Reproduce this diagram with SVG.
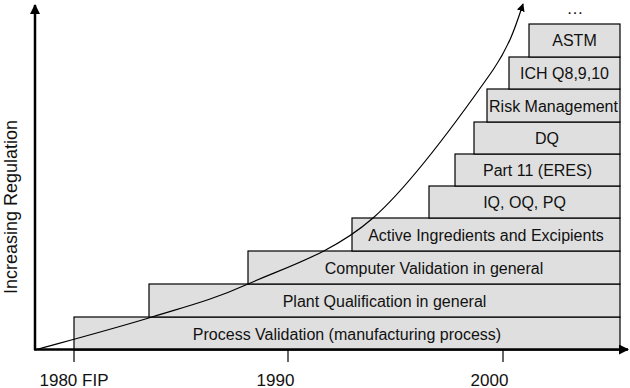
<svg xmlns="http://www.w3.org/2000/svg" width="630" height="388" viewBox="0 0 630 388">
<style>
.box{fill:#dfdfdf;stroke:#000;stroke-width:1.2}
.lbl{font-family:"Liberation Sans",Arial,sans-serif;font-size:16px;fill:#111;text-anchor:middle}
.axis{stroke:#000;stroke-width:2.5;fill:none}
.tick{stroke:#000;stroke-width:1.2}
.curve{stroke:#000;stroke-width:1.2;fill:none}
</style>
<defs>
<marker id="ah" viewBox="0 0 10 10" refX="9" refY="5" markerWidth="8" markerHeight="8" markerUnits="userSpaceOnUse" orient="auto">
<path d="M0,0 L10,5 L0,10 z" fill="#000"/>
</marker>
<marker id="ah2" viewBox="0 0 10 10" refX="9" refY="5" markerWidth="4" markerHeight="4" orient="auto">
<path d="M0,0 L10,5 L0,10 z" fill="#000"/>
</marker>
</defs>
<g id="n1"><rect class="box" x="74" y="317" width="546" height="33"/><text class="lbl" x="347" y="339.5">Process Validation (manufacturing process)</text></g>
<g id="n2"><rect class="box" x="149" y="284" width="471" height="33"/><text class="lbl" x="384.5" y="306.5">Plant Qualification in general</text></g>
<g id="n3"><rect class="box" x="248" y="251" width="372" height="33"/><text class="lbl" x="434" y="273.5">Computer Validation in general</text></g>
<g id="n4"><rect class="box" x="352" y="218" width="268" height="33"/><text class="lbl" x="486" y="240.5">Active Ingredients and Excipients</text></g>
<g id="n5"><rect class="box" x="429" y="186" width="191" height="32"/><text class="lbl" x="524.5" y="208">IQ, OQ, PQ</text></g>
<g id="n6"><rect class="box" x="455" y="154" width="165" height="32"/><text class="lbl" x="537.5" y="176">Part 11 (ERES)</text></g>
<g id="n7"><rect class="box" x="474" y="122" width="146" height="32"/><text class="lbl" x="547" y="144">DQ</text></g>
<g id="n8"><rect class="box" x="487" y="89" width="133" height="33"/><text class="lbl" x="553.5" y="111.5">Risk Management</text></g>
<g id="n9"><rect class="box" x="509" y="57" width="111" height="32"/><text class="lbl" x="564.5" y="79">ICH Q8,9,10</text></g>
<g id="n10"><rect class="box" x="529" y="24" width="91" height="33"/><text class="lbl" x="574.5" y="46">ASTM</text></g>
<text class="lbl" x="575" y="14" style="font-size:17px">…</text>
<g id="connectors">
<path class="axis" d="M35,350 L35,5" marker-end="url(#ah2)"/>
<path class="axis" d="M34,349.5 L628,349.5" marker-end="url(#ah2)"/>
<line class="tick" x1="74" y1="349" x2="74" y2="362"/>
<line class="tick" x1="288" y1="349" x2="288" y2="362"/>
<line class="tick" x1="503" y1="349" x2="503" y2="362"/>
<path class="curve" d="M35,350 C54.5,344.5 116.5,328 152,317 C187.5,306 211.2,300.5 248,284 C284.8,267.5 332.2,253.7 373,218 C413.8,182.3 468,105.7 493,70 C510,45 516,25 523,4" marker-end="url(#ah)"/>
</g>
<text class="lbl" x="74" y="385.5" style="font-size:17px">1980 FIP</text>
<text class="lbl" x="275.5" y="385.5" style="font-size:17px">1990</text>
<text class="lbl" x="489.5" y="385.5" style="font-size:17px">2000</text>
<text class="lbl" transform="translate(17,207) rotate(-90)" style="font-size:18px">Increasing Regulation</text>
</svg>
